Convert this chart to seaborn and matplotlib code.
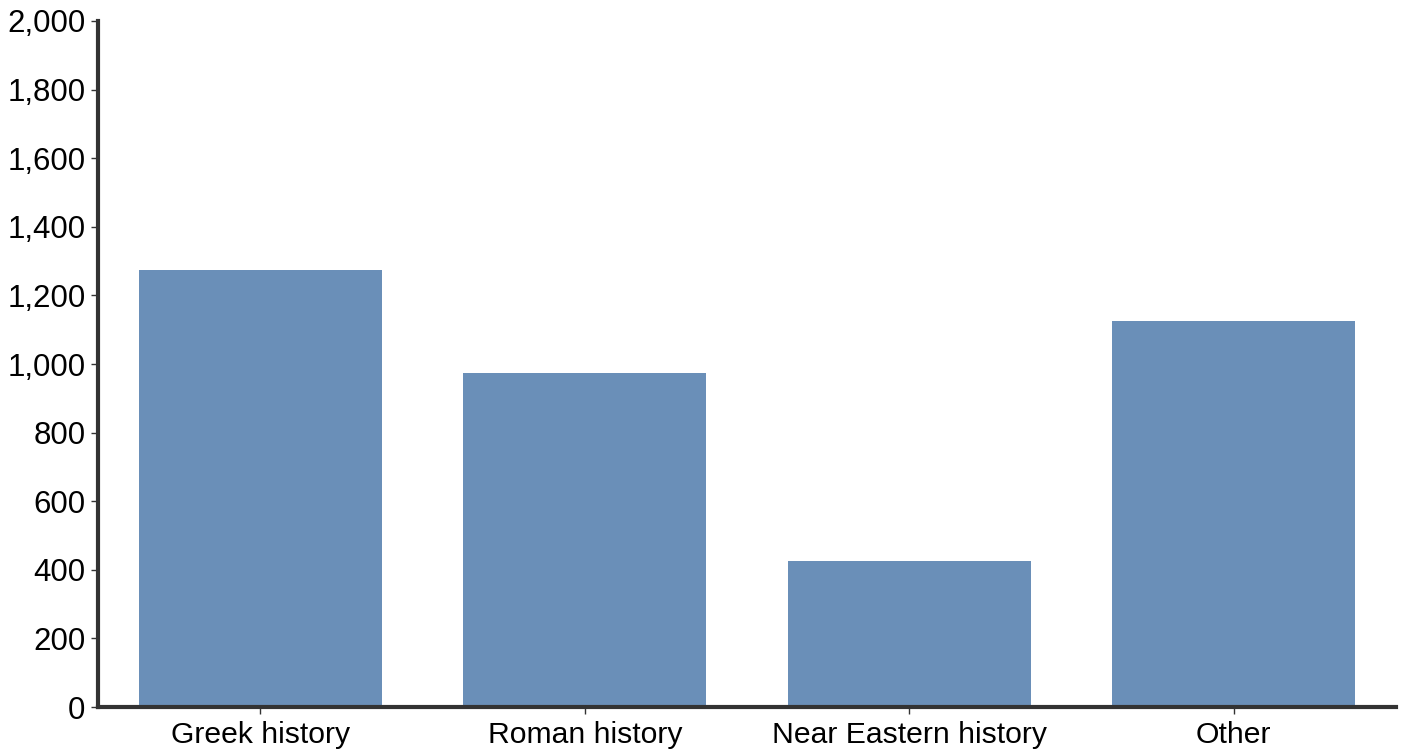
import matplotlib
matplotlib.use("Agg")
import matplotlib.pyplot as plt
import seaborn as sns
import pandas as pd
from matplotlib.ticker import FuncFormatter

categories = ["Greek history", "Roman history", "Near Eastern history", "Other"]
values = [1275, 975, 425, 1125]

sns.set_theme(style="white")
plt.rcParams['font.family'] = ['Liberation Sans', 'DejaVu Sans']

df = pd.DataFrame({"category": categories, "value": values})

fig = plt.figure(figsize=(14.08, 7.5), dpi=100)
ax = fig.add_axes([0.0696, 0.0573, 0.9219, 0.9147])
sns.barplot(data=df, x="category", y="value", color="#6a8fb8", saturation=1,
            width=0.75, linewidth=0, ax=ax)
ax.set_xlim(-0.5, 3.5)
ax.set_ylim(0, 2000)
ax.set_yticks(range(0, 2001, 200))
ax.yaxis.set_major_formatter(FuncFormatter(lambda v, p: f"{int(v):,}"))
ax.set_xlabel("")
ax.set_ylabel("")
for s in ["top", "right"]:
    ax.spines[s].set_visible(False)
for s in ["left", "bottom"]:
    ax.spines[s].set_color("#333333")
    ax.spines[s].set_linewidth(3)
ax.tick_params(axis="both", colors="#333333", labelcolor="black",
               length=5, width=1, direction="out", left=True, bottom=True)
ax.tick_params(axis="y", pad=4, labelsize=22.5)
ax.tick_params(axis="x", pad=5, labelsize=21.7)
fig.savefig("out.png", dpi=100)
